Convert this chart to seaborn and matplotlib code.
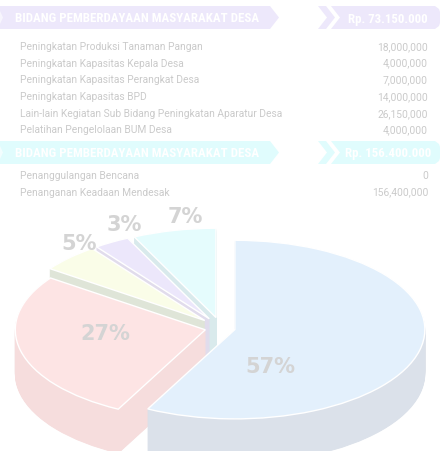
import matplotlib
matplotlib.use("Agg")
import matplotlib.pyplot as plt
from matplotlib.transforms import Affine2D
from matplotlib.patches import Polygon
import seaborn as sns

# ---------------- data ----------------
header_titles = ["BIDANG PEMBERDAYAAN MASYARAKAT DESA",
                 "BIDANG PEMBERDAYAAN MASYARAKAT DESA"]
header_totals = ["Rp. 73.150.000", "Rp. 156.400.000"]

group1_items = ["Peningkatan Produksi Tanaman Pangan",
                "Peningkatan Kapasitas Kepala Desa",
                "Peningkatan Kapasitas Perangkat Desa",
                "Peningkatan Kapasitas BPD",
                "Lain-lain Kegiatan Sub Bidang Peningkatan Aparatur Desa",
                "Pelatihan Pengelolaan BUM Desa"]
group1_values = [18000000, 4000000, 7000000, 14000000, 26150000, 4000000]

group2_items = ["Penanggulangan Bencana", "Penanganan Keadaan Mendesak"]
group2_values = [0, 156400000]

pie_labels = ["57%", "27%", "5%", "3%", "7%"]
pie_shares = [57, 27, 5, 3, 7]

# ---------------- style ----------------
sns.set_theme(style="white")
plt.rcParams["font.family"] = ["Roboto", "DejaVu Sans"]

top_colors = ["#e3f0fc", "#fde4e4", "#fafde8", "#ece7fb", "#e5fcfd"]
wall_colors = ["#dbe1ea", "#f6dddd", "#dfe5d8", "#e1dcec", "#d9eaec"]
explode_frac = [0.075, 0.085, 0.12, 0.12, 0.12]

W, H = 442, 452
fig = plt.figure(figsize=(W / 100, H / 100), dpi=100)
ax = fig.add_axes([0, 0, 1, 1])
ax.set_xlim(0, W)
ax.set_ylim(H, 0)
ax.axis("off")

head_font = ["Roboto Condensed", "Liberation Sans Narrow", "Roboto", "DejaVu Sans"]

# ---------------- headers ----------------
def header(y0, y1, fill, title, total):
    ym = (y0 + y1) / 2
    ax.add_patch(Polygon([(0, y0), (270, y0), (279, ym), (270, y1), (0, y1)],
                         closed=True, fc=fill, ec="none"))
    ax.add_patch(Polygon([(0, y0 + 5), (3, ym), (0, y1 - 5)], closed=True,
                         fc="white", ec="none", alpha=0.6))
    ax.add_patch(Polygon([(318, y0), (326, y0), (335, ym), (326, y1), (318, y1), (327, ym)],
                         closed=True, fc=fill, ec="none"))
    ax.add_patch(Polygon([(331, y0), (435, y0), (439, y0 + 3), (440, y0 + 6),
                          (440, y1 - 6), (439, y1 - 3), (435, y1), (331, y1), (340, ym)],
                         closed=True, fc=fill, ec="none"))
    ax.text(15, ym + 0.5, title, color="white", fontsize=9.3, fontweight="bold",
            family=head_font, ha="left", va="center")
    ax.text(388, ym + 0.5, total, color="white", fontsize=9.3, fontweight="bold",
            family=head_font, ha="center", va="center")

header(7, 30, "#ede8fb", header_titles[0], header_totals[0])
header(142, 165, "#e0fcfd", header_titles[1], header_totals[1])

txt_color = "#cacaca"
for i, (name, val) in enumerate(zip(group1_items, group1_values)):
    y = 47 + i * 16.7
    ax.text(20, y, name, color=txt_color, fontsize=7.4, ha="left", va="center")
    ax.text(428, y, f"{val:,}", color=txt_color, fontsize=7.4, ha="right", va="center")
for i, (name, val) in enumerate(zip(group2_items, group2_values)):
    y = 176 + i * 16.7
    ax.text(20, y, name, color=txt_color, fontsize=7.4, ha="left", va="center")
    ax.text(428, y, f"{val:,}", color=txt_color, fontsize=7.4, ha="right", va="center")

# ---------------- 3D-looking pie ----------------
R = 190
k = 0.47
cx, cy = 221, 329
thickness = 44
explode = [e * R for e in explode_frac]

def draw_layer(dz, colors, lw, ec):
    wedges, _ = ax.pie(pie_shares, radius=R, center=(0, 0), startangle=90,
                       counterclock=False, explode=explode, colors=colors,
                       wedgeprops=dict(linewidth=lw, edgecolor=ec))
    tr = Affine2D().scale(1, -k).translate(cx, cy + dz) + ax.transData
    for w in wedges:
        w.set_transform(tr)
        w.set_clip_on(False)
        if ec is None:
            w.set_edgecolor(w.get_facecolor())
    return wedges

for dz in range(thickness, 0, -1):
    draw_layer(dz, wall_colors, 0.6, None)
draw_layer(0, top_colors, 1.0, "white")

ax.set_aspect("auto")
ax.set_xlim(0, W)
ax.set_ylim(H, 0)

label_pos = [(270, 367), (105, 334), (79, 244), (124, 225), (185, 217)]
for lab, (x, y) in zip(pie_labels, label_pos):
    ax.text(x, y, lab, color="#d4d4d4", fontsize=15, fontweight="bold",
            family=["DejaVu Sans"], ha="center", va="center")

fig.savefig("out.png", dpi=100, facecolor="white")
